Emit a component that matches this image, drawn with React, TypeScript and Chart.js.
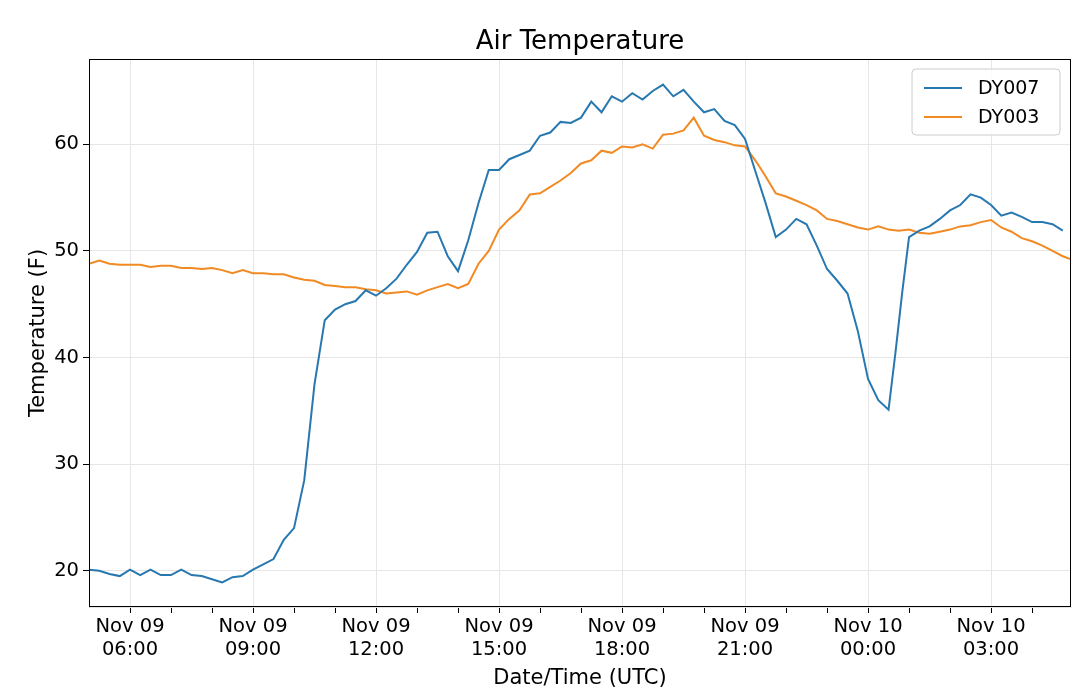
import React, { useEffect, useRef } from "react";
import { Chart, registerables } from "chart.js";
Chart.register(...registerables);

const times007 = [5,5.25,5.5,5.75,6,6.25,6.5,6.75,7,7.25,7.5,7.75,8,8.25,8.5,8.75,9,9.25,9.5,9.75,10,10.25,10.5,10.75,11,11.25,11.5,11.75,12,12.25,12.5,12.75,13,13.25,13.5,13.75,14,14.25,14.5,14.75,15,15.25,15.5,15.75,16,16.25,16.5,16.75,17,17.25,17.5,17.75,18,18.25,18.5,18.75,19,19.25,19.5,19.75,20,20.25,20.5,20.75,21,21.25,21.5,21.75,22,22.25,22.5,22.75,23,23.25,23.5,23.75,24,24.25,24.5,24.67,24.83,25,25.25,25.5,25.75,26,26.25,26.5,26.75,27,27.25,27.5,27.75,28,28.25,28.5,28.75,28.95];
const dy007 = [20.1,20.0,19.7,19.5,20.1,19.6,20.1,19.6,19.6,20.1,19.6,19.5,19.2,18.9,19.4,19.5,20.1,20.6,21.1,22.9,24.0,28.5,37.5,43.5,44.5,45.0,45.3,46.3,45.8,46.5,47.4,48.7,49.9,51.7,51.8,49.5,48.1,51.0,54.5,57.6,57.6,58.6,59.0,59.4,60.8,61.1,62.1,62.0,62.5,64.0,63.0,64.5,64.0,64.8,64.2,65.0,65.6,64.5,65.1,64.0,63.0,63.3,62.2,61.8,60.5,57.5,54.5,51.3,52.0,53.0,52.5,50.5,48.3,47.2,46.0,42.5,38.0,36.0,35.1,40.5,46.0,51.3,51.9,52.3,53.0,53.8,54.3,55.3,55.0,54.3,53.3,53.6,53.2,52.7,52.7,52.5,51.9];
const times003 = [5,5.25,5.5,5.75,6,6.25,6.5,6.75,7,7.25,7.5,7.75,8,8.25,8.5,8.75,9,9.25,9.5,9.75,10,10.25,10.5,10.75,11,11.25,11.5,11.75,12,12.25,12.5,12.75,13,13.25,13.5,13.75,14,14.25,14.5,14.75,15,15.25,15.5,15.75,16,16.25,16.5,16.75,17,17.25,17.5,17.75,18,18.25,18.5,18.75,19,19.25,19.5,19.75,20,20.25,20.5,20.75,21,21.25,21.5,21.75,22,22.25,22.5,22.75,23,23.25,23.5,23.75,24,24.25,24.5,24.75,25,25.25,25.5,25.75,26,26.25,26.5,26.75,27,27.25,27.5,27.75,28,28.25,28.5,28.75,28.95];
const dy003 = [48.8,49.1,48.8,48.7,48.7,48.7,48.5,48.6,48.6,48.4,48.4,48.3,48.4,48.2,47.9,48.2,47.9,47.9,47.8,47.8,47.5,47.3,47.2,46.8,46.7,46.6,46.6,46.4,46.3,46.0,46.1,46.2,45.9,46.3,46.6,46.9,46.5,46.9,48.8,50.0,52.0,53.0,53.8,55.3,55.4,56.0,56.6,57.3,58.2,58.5,59.4,59.2,59.8,59.7,60.0,59.6,60.9,61.0,61.3,62.5,60.8,60.4,60.2,59.9,59.8,58.5,57.0,55.4,55.1,54.7,54.3,53.8,53.0,52.8,52.5,52.2,52.0,52.3,52.0,51.9,52.0,51.7,51.6,51.8,52.0,52.3,52.4,52.7,52.9,52.2,51.8,51.2,50.9,50.5,50.0,49.5,49.2];
const xTickLabels: Record<number, string[]> = {
  6: ["Nov 09", "06:00"], 9: ["Nov 09", "09:00"], 12: ["Nov 09", "12:00"], 15: ["Nov 09", "15:00"],
  18: ["Nov 09", "18:00"], 21: ["Nov 09", "21:00"], 24: ["Nov 10", "00:00"], 27: ["Nov 10", "03:00"],
};
const series = [
  { label: "DY007", color: "#2878b0", t: times007, v: dy007 },
  { label: "DY003", color: "#f28a24", t: times003, v: dy003 },
];
const FONT = "'DejaVu Sans', sans-serif";

export default function App() {
  const ref = useRef<HTMLCanvasElement>(null);
  useEffect(() => {
    document.body.style.margin = "0";
    const deco = {
      id: "deco",
      afterDraw(c: any) {
        const { ctx, chartArea: a } = c;
        ctx.save();
        ctx.strokeStyle = "#000"; ctx.lineWidth = 1;
        ctx.strokeRect(a.left + 0.5, a.top + 0.5, a.right - a.left - 1, a.bottom - a.top - 1);
        ctx.fillStyle = "#000"; ctx.font = `26px ${FONT}`; ctx.textAlign = "center"; ctx.textBaseline = "middle";
        ctx.fillText("Air Temperature", (a.left + a.right) / 2, 42);
        const bx = 912, by = 69, bw = 148, bh = 66;
        ctx.fillStyle = "rgba(255,255,255,0.85)"; ctx.strokeStyle = "#ccc";
        ctx.beginPath(); (ctx as any).roundRect(bx, by, bw, bh, 4); ctx.fill(); ctx.stroke();
        ctx.font = `19px ${FONT}`; ctx.textAlign = "left";
        series.forEach((s, i) => {
          const y = by + 19 + i * 29;
          ctx.strokeStyle = s.color; ctx.lineWidth = 2;
          ctx.beginPath(); ctx.moveTo(bx + 12, y); ctx.lineTo(bx + 50, y); ctx.stroke();
          ctx.fillStyle = "#000"; ctx.fillText(s.label, bx + 66, y + 1);
        });
        ctx.restore();
      },
    };
    const chart = new Chart(ref.current!, {
      type: "line",
      data: {
        datasets: series.map((s) => ({
          label: s.label,
          data: s.t.map((t, i) => ({ x: t, y: s.v[i] })),
          borderColor: s.color, borderWidth: 2, pointRadius: 0, tension: 0,
        })),
      },
      options: {
        animation: false, responsive: false,
        layout: { padding: { top: 59, right: 9, left: 22, bottom: 2 } },
        plugins: { legend: { display: false }, tooltip: { enabled: false } },
        scales: {
          x: {
            type: "linear", min: 5, max: 28.95,
            afterBuildTicks: (s: any) => { s.ticks = []; for (let h = 6; h <= 28; h++) s.ticks.push({ value: h }); },
            afterFit: (s: any) => { s.height = 88; },
            ticks: {
              autoSkip: false, maxRotation: 0, color: "#000", font: { family: FONT, size: 19.5 }, padding: 2,
              callback: (v: any) => xTickLabels[v] || "",
            },
            grid: {
              color: (c: any) => (c.tick && xTickLabels[c.tick.value] ? "#e6e6e6" : "rgba(0,0,0,0)"),
              tickColor: "#000", tickLength: 6, drawTicks: true,
            },
            title: { display: true, text: "Date/Time (UTC)", color: "#000", font: { family: FONT, size: 21 }, padding: { top: 0 } },
          },
          y: {
            min: 16.6, max: 68.0,
            afterBuildTicks: (s: any) => { s.ticks = [20, 30, 40, 50, 60].map((value) => ({ value })); },
            afterFit: (s: any) => { s.width = 67; },
            ticks: { color: "#000", font: { family: FONT, size: 19.5 }, padding: 4 },
            grid: { color: "#e6e6e6", tickColor: "#000", tickLength: 6 },
            title: { display: true, text: "Temperature (F)", color: "#000", font: { family: FONT, size: 21 }, padding: { bottom: 2 } },
          },
        },
      },
      plugins: [deco],
    });
    return () => chart.destroy();
  }, []);
  return <canvas ref={ref} width={1080} height={697} style={{ display: "block" }} />;
}
